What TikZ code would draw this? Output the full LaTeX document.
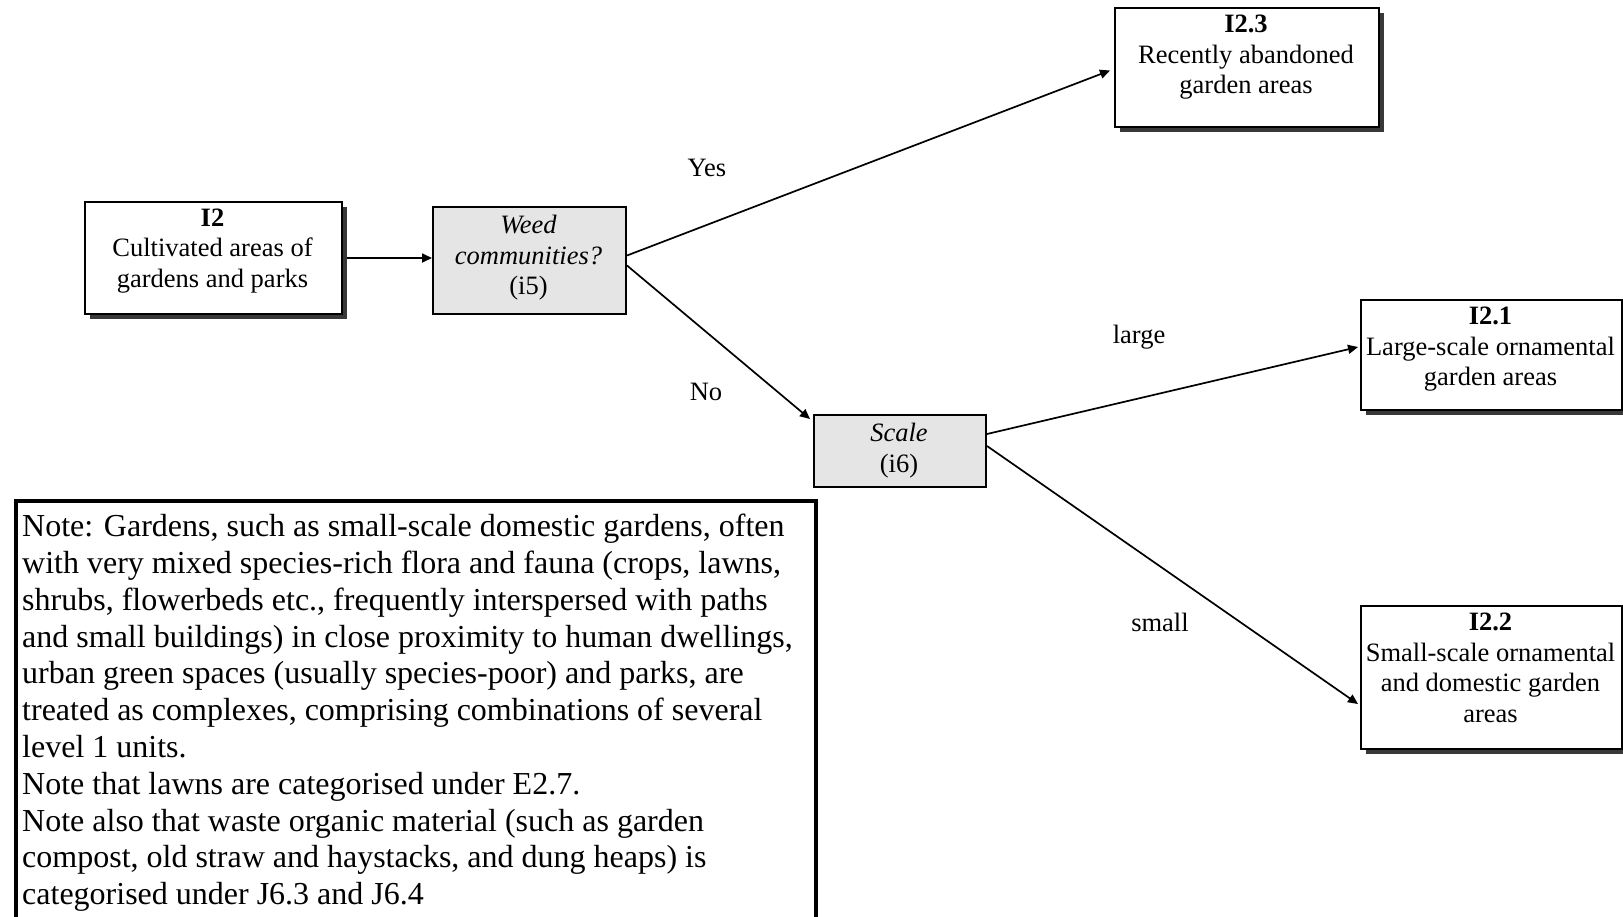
\documentclass[tikz,border=0pt]{standalone}
\usepackage{fontspec}
\setmainfont{Liberation Serif}
\usetikzlibrary{arrows.meta,shadows}
\begin{document}
\begin{tikzpicture}[x=1pt,y=-1pt,
  boxline/.style={draw, line width=2pt, inner sep=0pt, anchor=north west},
  leaf/.style={boxline, fill=white,
    drop shadow={shadow xshift=5pt, shadow yshift=-5pt, opacity=1, fill=black!78}},
  query/.style={boxline, fill=black!10},
  txt/.style={align=center, inner sep=0pt, anchor=north,
    font=\fontsize{26.5}{30.5}\selectfont},
  lbl/.style={inner sep=0pt, font=\fontsize{26.5}{30.5}\selectfont},
  arr/.style={line width=1.7pt, -{Triangle[length=10pt,width=9pt]}}
]
\useasboundingbox (0,0) rectangle (1623,916);

% decision boxes
\node[query, minimum width=193pt, minimum height=107pt] (weed) at (432,206) {};
\node[query, minimum width=172pt, minimum height=72pt] (scale) at (813,414) {};

% habitat boxes
\node[leaf, minimum width=257pt, minimum height=112pt] (i2) at (84,201) {};
\node[leaf, minimum width=264pt, minimum height=119pt] (i23) at (1114,7) {};
\node[leaf, minimum width=261pt, minimum height=110pt] (i21) at (1360,299) {};
\node[leaf, minimum width=261pt, minimum height=143pt] (i22) at (1360,605) {};

% box texts
\node[txt] (i2t) at (212.5,208.5) {\textbf{I2}\\Cultivated areas of\\gardens and parks};
\node[txt] (weedt) at (528.5,215) {\textit{Weed}\\\textit{communities?}\\(i5)};
\node[txt] (scalet) at (899,423) {\textit{Scale}\\(i6)};
\node[txt] (i23t) at (1246,15) {\textbf{I2.3}\\Recently abandoned\\garden areas};
\node[txt] (i21t) at (1490.5,307) {\textbf{I2.1}\\Large-scale ornamental\\garden areas};
\node[txt] (i22t) at (1490.5,613) {\textbf{I2.2}\\Small-scale ornamental\\and domestic garden\\areas};

% connectors
\draw[arr] ([xshift=4pt]i2.east) -- (i2.east -| weed.west);
\draw[arr] ([yshift=5pt]weed.east) -- ([xshift=-4pt,yshift=-3pt]i23.west);
\draw[arr] ([yshift=-5pt]weed.east) -- ([xshift=-3pt,yshift=-5pt]scale.north west);
\draw[arr] ([yshift=17pt]scale.east) -- ([xshift=-2pt,yshift=8pt]i21.west);
\draw[arr] ([yshift=5pt]scale.east) -- ([xshift=-2pt,yshift=-26.5pt]i22.west);

% branch labels
\node[lbl] (yes) at (707,168) {Yes};
\node[lbl] (no) at (706,392) {No};
\node[lbl] (large) at (1139,337) {large};
\node[lbl] (small) at (1160,622) {small};

% note
\node[draw, line width=3.5pt, inner sep=0pt, anchor=north west,
  minimum width=800pt, minimum height=440pt] (note) at (14,499) {};
\node[anchor=north west, align=left, inner sep=0pt,
  font=\fontsize{32}{36.8}\selectfont] (notetext) at (22,514)
  {Note: Gardens, such as small-scale domestic gardens, often\\
   with very mixed species-rich flora and fauna (crops, lawns,\\
   shrubs, flowerbeds etc., frequently interspersed with paths\\
   and small buildings) in close proximity to human dwellings,\\
   urban green spaces (usually species-poor) and parks, are\\
   treated as complexes, comprising combinations of several\\
   level 1 units.\\
   Note that lawns are categorised under E2.7.\\
   Note also that waste organic material (such as garden\\
   compost, old straw and haystacks, and dung heaps) is\\
   categorised under J6.3 and J6.4};
\end{tikzpicture}
\end{document}
